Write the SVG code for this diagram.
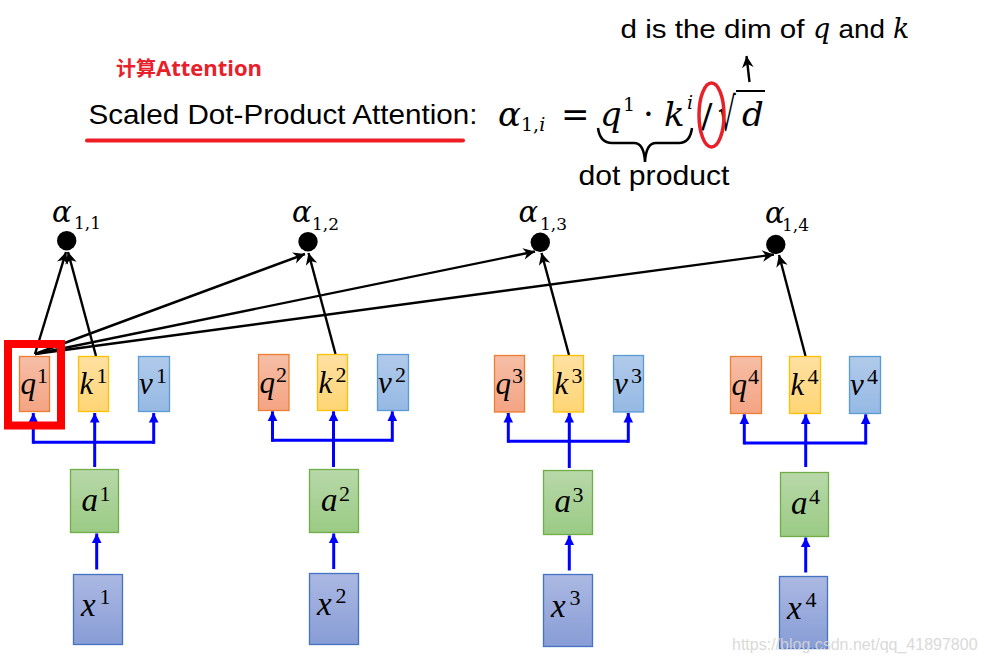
<svg xmlns="http://www.w3.org/2000/svg" width="984" height="663" viewBox="0 0 984 663">
<defs>
<linearGradient id="gq" x1="0" y1="0" x2="0" y2="1"><stop offset="0" stop-color="#f6bea7"/><stop offset="1" stop-color="#f4a483"/></linearGradient>
<linearGradient id="gk" x1="0" y1="0" x2="0" y2="1"><stop offset="0" stop-color="#ffe0a2"/><stop offset="1" stop-color="#ffd574"/></linearGradient>
<linearGradient id="gv" x1="0" y1="0" x2="0" y2="1"><stop offset="0" stop-color="#b1caea"/><stop offset="1" stop-color="#95b9e4"/></linearGradient>
<linearGradient id="ga" x1="0" y1="0" x2="0" y2="1"><stop offset="0" stop-color="#b8d8a9"/><stop offset="1" stop-color="#9acb84"/></linearGradient>
<linearGradient id="gx" x1="0" y1="0" x2="0" y2="1"><stop offset="0" stop-color="#abb8e2"/><stop offset="1" stop-color="#889dd6"/></linearGradient>
<marker id="ab" markerUnits="userSpaceOnUse" markerWidth="14" markerHeight="14" viewBox="-11 -6 12 12" refX="0" refY="0" orient="auto"><path d="M0,0 L-10,-5 L-7,0 L-10,5 Z" fill="#000"/></marker>
<marker id="au" markerUnits="userSpaceOnUse" markerWidth="12" markerHeight="12" viewBox="-9 -5 10 10" refX="0" refY="0" orient="auto"><path d="M0,0 L-8,-4 L-8,4 Z" fill="#0000ff"/></marker>
</defs>
<style>
.q{fill:url(#gq);stroke:#ed7d31;stroke-width:1.3}
.k{fill:url(#gk);stroke:#ffc000;stroke-width:1.3}
.v{fill:url(#gv);stroke:#5b9bd5;stroke-width:1.3}
.a{fill:url(#ga);stroke:#70ad47;stroke-width:1.3}
.x{fill:url(#gx);stroke:#4472c4;stroke-width:1.3}
.m{font-family:"Liberation Serif","DejaVu Serif",serif;font-style:italic;font-size:31px;fill:#000}
.mb{font-family:"Liberation Serif","DejaVu Serif",serif;font-style:italic;font-size:33px;fill:#000}
.s{font-family:"Liberation Serif","DejaVu Serif",serif;font-size:22px;fill:#000}
.sb{font-family:"Liberation Serif","DejaVu Serif",serif;font-size:22px;fill:#000}
.al{font-family:"DejaVu Serif",serif;font-style:italic;font-size:29px;fill:#000}
.as{font-family:"DejaVu Serif",serif;font-size:17px;fill:#000}
.bl{stroke:#000;stroke-width:2.4;fill:none;marker-end:url(#ab)}
.bu{stroke:#0000ff;stroke-width:3;fill:none}
.bua{stroke:#0000ff;stroke-width:3;fill:none;marker-end:url(#au)}
.sans{font-family:"Liberation Sans",Arial,sans-serif;fill:#000}
.f{font-family:"DejaVu Serif",serif;font-style:italic;fill:#000}
.fr{font-family:"DejaVu Serif",serif;fill:#000}
</style>
<rect width="984" height="663" fill="#fff"/>

<g id="title">
<text x="116" y="76" font-family="Noto Sans CJK SC, sans-serif" font-weight="bold" font-size="20" fill="#e8202a">计算<tspan font-family="Open Sans, Noto Sans, sans-serif" font-size="22">Attention</tspan></text>
<text class="sans" x="88.5" y="124" font-size="28" textLength="389" lengthAdjust="spacingAndGlyphs">Scaled Dot-Product Attention:</text>
<line x1="87" y1="140.5" x2="463" y2="140.5" stroke="#ee1c25" stroke-width="4" stroke-linecap="round"/>
</g>

<g id="formula">
<text class="f" x="498" y="126" style="font-size:34px">α</text>
<text class="fr" x="521" y="131" style="font-size:19px">1,<tspan font-style="italic">i</tspan></text>
<text class="fr" x="561" y="126" style="font-size:34px">=</text>
<text class="f" x="600" y="126" style="font-size:34px">q</text>
<text class="fr" x="623" y="111" style="font-size:19px">1</text>
<text class="fr" x="643" y="126" style="font-size:34px">·</text>
<text class="f" x="664" y="126" style="font-size:34px">k</text>
<text class="f" x="687" y="109" style="font-size:19px">i</text>
<text class="fr" x="701" y="128" style="font-size:34px">/</text>
<text class="fr" transform="translate(718,130) scale(1,1.65)" style="font-size:28px">√</text>
<line x1="736" y1="91" x2="765" y2="91" stroke="#000" stroke-width="2"/>
<text class="f" x="742" y="126" style="font-size:34px">d</text>
<ellipse cx="711.5" cy="115" rx="12.5" ry="32" fill="none" stroke="#e8202a" stroke-width="3.5"/>
<path d="M598,128 Q600,143 612,143 L634,143 Q644,143 645,162 Q646,143 656,143 L679,143 Q690,143 692,128" fill="none" stroke="#000" stroke-width="2.5"/>
<text class="sans" x="578.5" y="185" font-size="28" textLength="151" lengthAdjust="spacingAndGlyphs">dot product</text>
</g>

<g id="dim-note">
<text class="sans" x="620.5" y="38" font-size="25" textLength="184" lengthAdjust="spacingAndGlyphs">d is the dim of</text>
<text class="f" x="813" y="38" style="font-size:27px">q</text>
<text class="sans" x="838.5" y="38" font-size="25" textLength="46.5" lengthAdjust="spacingAndGlyphs">and</text>
<text class="f" x="893" y="38" style="font-size:27px">k</text>
</g>

<g id="connectors">
<line class="bl" x1="35" y1="354" x2="66" y2="252"/>
<line class="bl" x1="96" y1="356" x2="68" y2="252"/>
<line class="bl" x1="35" y1="354" x2="305" y2="254"/>
<line class="bl" x1="35" y1="354" x2="535" y2="251.5"/>
<line class="bl" x1="35" y1="354" x2="774" y2="254.5"/>
<line class="bl" x1="335.5" y1="354" x2="308.5" y2="253"/>
<line class="bl" x1="569" y1="355" x2="541.5" y2="253"/>
<line class="bl" x1="805.5" y1="356" x2="779" y2="255"/>
<line class="bl" x1="749.5" y1="82" x2="746.5" y2="56"/>

<path class="bu" d="M33.3,442.3 H153.7"/>
<line class="bua" x1="94.7" y1="467" x2="94.7" y2="413"/>
<line class="bua" x1="33.3" y1="443.8" x2="33.3" y2="413"/>
<line class="bua" x1="153.7" y1="443.8" x2="153.7" y2="413"/>
<line class="bua" x1="96.7" y1="569.5" x2="96.7" y2="533.5"/>

<path class="bu" d="M272.5,440.3 H392.3"/>
<line class="bua" x1="333.5" y1="467" x2="333.5" y2="411.3"/>
<line class="bua" x1="272.5" y1="441.8" x2="272.5" y2="411.3"/>
<line class="bua" x1="392.3" y1="441.8" x2="392.3" y2="411.3"/>
<line class="bua" x1="333.7" y1="569" x2="333.7" y2="533.5"/>

<path class="bu" d="M508.3,441.3 H628.3"/>
<line class="bua" x1="569.3" y1="468" x2="569.3" y2="413"/>
<line class="bua" x1="508.3" y1="442.8" x2="508.3" y2="413"/>
<line class="bua" x1="628.3" y1="442.8" x2="628.3" y2="413"/>
<line class="bua" x1="569.3" y1="570.5" x2="569.3" y2="535.5"/>

<path class="bu" d="M744.3,443 H865.7"/>
<line class="bua" x1="805.7" y1="467" x2="805.7" y2="414.3"/>
<line class="bua" x1="744.3" y1="444.5" x2="744.3" y2="414.3"/>
<line class="bua" x1="865.7" y1="444.5" x2="865.7" y2="414.3"/>
<line class="bua" x1="805.7" y1="572.5" x2="805.7" y2="537.5"/>
</g>

<g id="alpha11"><circle cx="66.7" cy="240.7" r="9.7"/><text class="al" x="52" y="222">α</text><text class="as" x="74" y="229">1,1</text></g>
<g id="alpha12"><circle cx="308" cy="241.7" r="9.7"/><text class="al" x="292" y="222">α</text><text class="as" x="312" y="229.5">1,2</text></g>
<g id="alpha13"><circle cx="540.3" cy="242.3" r="9.7"/><text class="al" x="518.5" y="222">α</text><text class="as" x="540" y="229.5">1,3</text></g>
<g id="alpha14"><circle cx="775.8" cy="244.5" r="9.7"/><text class="al" x="765" y="223.3">α</text><text class="as" x="782" y="231">1,4</text></g>

<g id="q1"><rect class="q" x="19.5" y="356.5" width="30" height="55"/><text class="m" x="20.5" y="394">q</text><text class="s" x="37" y="383">1</text></g>
<g id="k1"><rect class="k" x="78.5" y="356.5" width="30" height="55"/><text class="m" x="79.5" y="394">k</text><text class="s" x="96.5" y="383">1</text></g>
<g id="v1"><rect class="v" x="138.5" y="356.5" width="31" height="55"/><text class="m" x="139" y="394">v</text><text class="s" x="156" y="383">1</text></g>
<g id="highlight"><rect x="8" y="344" width="53" height="81.5" fill="none" stroke="#ff0000" stroke-width="8"/></g>

<g id="q2"><rect class="q" x="258.5" y="354.5" width="30.5" height="56"/><text class="m" x="259.5" y="392.5">q</text><text class="s" x="276" y="381.5">2</text></g>
<g id="k2"><rect class="k" x="317.5" y="354.5" width="30" height="56"/><text class="m" x="318.5" y="392.5">k</text><text class="s" x="335.5" y="381.5">2</text></g>
<g id="v2"><rect class="v" x="377.5" y="354.5" width="31" height="56"/><text class="m" x="378" y="392.5">v</text><text class="s" x="395" y="381.5">2</text></g>

<g id="q3"><rect class="q" x="494.5" y="355.5" width="30" height="56.5"/><text class="m" x="495.5" y="393.5">q</text><text class="s" x="512" y="382.5">3</text></g>
<g id="k3"><rect class="k" x="553.5" y="355.5" width="30" height="56.5"/><text class="m" x="554.5" y="393.5">k</text><text class="s" x="571.5" y="382.5">3</text></g>
<g id="v3"><rect class="v" x="613.5" y="355.5" width="30" height="56.5"/><text class="m" x="614" y="393.5">v</text><text class="s" x="631" y="382.5">3</text></g>

<g id="q4"><rect class="q" x="730.5" y="356.5" width="31" height="57"/><text class="m" x="731.5" y="395">q</text><text class="s" x="748" y="384">4</text></g>
<g id="k4"><rect class="k" x="789.5" y="356.5" width="31" height="57"/><text class="m" x="790.5" y="395">k</text><text class="s" x="807.5" y="384">4</text></g>
<g id="v4"><rect class="v" x="849.5" y="356.5" width="31" height="57"/><text class="m" x="850" y="395">v</text><text class="s" x="867" y="384">4</text></g>

<g id="a1"><rect class="a" x="70.5" y="469.5" width="48" height="63"/><text class="mb" x="81.5" y="511">a</text><text class="sb" x="99.5" y="501">1</text></g>
<g id="a2"><rect class="a" x="309.5" y="469.5" width="49" height="63"/><text class="mb" x="321" y="511">a</text><text class="sb" x="339" y="501">2</text></g>
<g id="a3"><rect class="a" x="543.5" y="470.5" width="49" height="64"/><text class="mb" x="554.5" y="512">a</text><text class="sb" x="572.5" y="502">3</text></g>
<g id="a4"><rect class="a" x="780.5" y="472.5" width="48" height="64"/><text class="mb" x="791" y="514">a</text><text class="sb" x="809" y="504">4</text></g>

<g id="x1"><rect class="x" x="73.5" y="574.5" width="49" height="70"/><text class="mb" x="81" y="616">x</text><text class="sb" x="99.5" y="604">1</text></g>
<g id="x2"><rect class="x" x="309.5" y="573.5" width="49" height="71"/><text class="mb" x="317" y="615">x</text><text class="sb" x="335.5" y="603">2</text></g>
<g id="x3"><rect class="x" x="543.5" y="574.5" width="49" height="72"/><text class="mb" x="551" y="617">x</text><text class="sb" x="569.5" y="605">3</text></g>
<g id="x4"><rect class="x" x="779.5" y="576.5" width="48" height="72"/><text class="mb" x="787" y="619">x</text><text class="sb" x="805.5" y="607">4</text></g>

<text x="732" y="650" font-family="Liberation Sans, Arial, sans-serif" font-size="16" fill="#d6d6d6" opacity="0.9">https://blog.csdn.net/qq_41897800</text>
</svg>
